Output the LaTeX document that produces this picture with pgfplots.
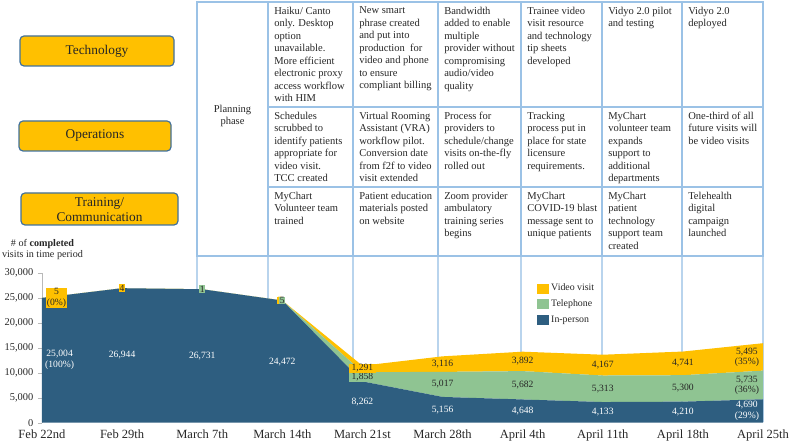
\documentclass[border=0pt]{standalone}
\usepackage{pgfplots}
\pgfplotsset{compat=1.18}
\usepackage{fontspec}
\setmainfont{Liberation Serif}
\definecolor{blueA}{RGB}{46,94,128}
\definecolor{greenA}{RGB}{143,196,146}
\definecolor{yellowA}{RGB}{255,192,0}
\definecolor{tblc}{RGB}{155,194,230}
\definecolor{boxb}{RGB}{65,113,156}
\definecolor{txt}{RGB}{38,38,38}
\tikzset{
  tbl/.style={draw=tblc, line width=0.9pt},
  cell/.style={anchor=north west, inner sep=0pt, align=left, text=txt, font=\fontsize{7.9}{9.375}\selectfont},
  lab/.style={font=\fontsize{7.2}{7.6}\selectfont, inner sep=0.5pt, align=center, text=txt},
  tight/.style={text height=4.9pt, text depth=1.3pt, inner ysep=0.2pt, inner xsep=2pt},
  wlab/.style={font=\fontsize{7.2}{8.2}\selectfont, inner sep=0.5pt, align=center, text=white},
  cat/.style={draw=boxb, fill=yellowA, line width=0.9pt, rounded corners=3pt},
}
\begin{document}
\begin{tikzpicture}
\path[use as bounding box] (0pt,0pt) rectangle (591.75pt,-330.75pt);
\begin{scope}[x=0.75pt,y=-0.75pt]
\foreach \xx in {197,268,353,438,521,602,682,763} \draw[tbl, draw=tblc!70] (\xx,256) -- (\xx,422);
\end{scope}
\begin{axis}[
  at={(31.5pt,-317.0pt)}, anchor=south west,
  scale only axis, width=540.75pt, height=112.3pt,
  xmin=0, xmax=9, ymin=0, ymax=30000,
  axis lines*=left,
  axis line style={draw=gray!55},
  x axis line style={draw=none},
  tick align=outside,
  major tick length=3pt,
  ytick={0,5000,...,30000},
  y tick style={draw=gray!55},
  x tick style={draw=none},
  xtick={0,...,9},
  xticklabels={Feb 22nd,Feb 29th,March 7th,March 14th,March 21st,March 28th,April 4th,April 11th,April 18th,April 25th},
  xticklabel style={font=\fontsize{9.4}{11}\selectfont, text=txt, yshift=1pt},
  yticklabel style={font=\fontsize{7.8}{9}\selectfont, text=txt, /pgf/number format/1000 sep={,}},
  /pgf/number format/assume math mode=true,
  scaled y ticks=false,
  clip=false,
  stack plots=y,
  reverse legend,
  legend cell align=left,
  legend image code/.code={\fill[#1] (0pt,-3.75pt) rectangle (8.5pt,3.75pt);},
  legend style={draw=none, fill=none, at={(0.6865,0.945)}, anchor=north west,
    font=\fontsize{7.4}{8}\selectfont, text=txt, inner sep=0pt, row sep=1.2pt,
    /tikz/column 2/.style={column sep=1.8pt}},
]
\addplot[fill=blueA, draw=none] coordinates {
(0,25004) (1,26944) (2,26731) (3,24472) (4,8262) (5,5156) (6,4648) (7,4133) (8,4210) (9,4690)} \closedcycle;
\addlegendentry{In-person}
\addplot[fill=greenA, draw=none] coordinates {
(0,0) (1,0) (2,1) (3,5) (4,1858) (5,5017) (6,5682) (7,5313) (8,5300) (9,5735)} \closedcycle;
\addlegendentry{Telephone}
\addplot[fill=yellowA, draw=none] coordinates {
(0,5) (1,4) (2,0) (3,3) (4,1291) (5,3116) (6,3892) (7,4167) (8,4741) (9,5495)} \closedcycle;
\addlegendentry{Video visit}
% label anchor points (middle of each band)
\coordinate (p0) at (axis cs:0.22,12502);
\coordinate (p1) at (axis cs:1,13472);
\coordinate (p2) at (axis cs:2,13365);
\coordinate (p3) at (axis cs:3,12236);
\coordinate (p4) at (axis cs:4,4131);
\coordinate (p5) at (axis cs:5,2578);
\coordinate (p6) at (axis cs:6,2324);
\coordinate (p7) at (axis cs:7,2066);
\coordinate (p8) at (axis cs:8,2105);
\coordinate (p9) at (axis cs:8.8,2345);
\coordinate (t2) at (axis cs:2,26731);
\coordinate (t3) at (axis cs:3,24476);
\coordinate (t4) at (axis cs:4,9120);
\coordinate (t5) at (axis cs:5,7664);
\coordinate (t6) at (axis cs:6,7489);
\coordinate (t7) at (axis cs:7,6790);
\coordinate (t8) at (axis cs:8,6860);
\coordinate (t9) at (axis cs:8.8,7557);
\coordinate (v0) at (axis cs:0.18,25006);
\coordinate (v1) at (axis cs:1,26946);
\coordinate (v4) at (axis cs:4,10900);
\coordinate (v5) at (axis cs:5,11731);
\coordinate (v6) at (axis cs:6,12276);
\coordinate (v7) at (axis cs:7,11530);
\coordinate (v8) at (axis cs:8,11881);
\coordinate (v9) at (axis cs:8.8,13172);
\end{axis}
% data labels
\node[wlab] at (p0) {25,004\\(100\%)};
\node[wlab] at (p1) {26,944};
\node[wlab] at (p2) {26,731};
\node[wlab] at (p3) {24,472};
\node[wlab] at (p4) {8,262};
\node[wlab] at (p5) {5,156};
\node[wlab] at (p6) {4,648};
\node[wlab] at (p7) {4,133};
\node[wlab] at (p8) {4,210};
\node[wlab] at (p9) {4,690\\(29\%)};
\node[lab, fill=greenA] at (t2) {1};
\node[lab, fill=yellowA, text=yellowA, xshift=-2pt] at (t3) {5};
\node[lab, fill=greenA] at (t3) {5};
\node[lab, tight, fill=greenA] at (t4) {1,858};
\node[lab, fill=greenA] at (t5) {5,017};
\node[lab, fill=greenA] at (t6) {5,682};
\node[lab, fill=greenA] at (t7) {5,313};
\node[lab, fill=greenA] at (t8) {5,300};
\node[lab, fill=greenA] at (t9) {5,735\\(36\%)};
\node[lab, fill=yellowA] at (v0) {5\\(0\%)};
\node[lab, fill=yellowA] at (v1) {4};
\node[lab, tight, fill=yellowA] at (v4) {1,291};
\node[lab, fill=yellowA] at (v5) {3,116};
\node[lab, fill=yellowA] at (v6) {3,892};
\node[lab, fill=yellowA] at (v7) {4,167};
\node[lab, fill=yellowA] at (v8) {4,741};
\node[lab, fill=yellowA] at (v9) {5,495\\(35\%)};
\begin{scope}[x=0.75pt,y=-0.75pt]
% table
\draw[tbl] (197,2) rectangle (763,256);
\foreach \xx in {268,353,438,521,602,682} \draw[tbl] (\xx,2) -- (\xx,256);
\draw[tbl] (268,107) -- (763,107);
\draw[tbl] (268,187) -- (763,187);
\node[align=center, text=txt, font=\fontsize{7.9}{9.375}\selectfont] at (232.5,116) {Planning\\phase};
% row 1
\node[cell] at (274,6.5) {Haiku/ Canto\\only. Desktop\\option\\unavailable.\\More efficient\\electronic proxy\\access workflow\\with HIM};
\node[cell] at (359,6.5) {New smart\\phrase created\\and put into\\production\ \ for\\video and phone\\to ensure\\compliant billing};
\node[cell] at (444,6.5) {Bandwidth\\added to enable\\multiple\\provider without\\compromising\\audio/video\\quality};
\node[cell] at (527,6.5) {Trainee video\\visit resource\\and technology\\tip sheets\\developed};
\node[cell] at (608,6.5) {Vidyo 2.0 pilot\\and testing};
\node[cell] at (688,6.5) {Vidyo 2.0\\deployed};
% row 2
\node[cell] at (274,111.5) {Schedules\\scrubbed to\\identify patients\\appropriate for\\video visit.\\TCC created};
\node[cell] at (359,111.5) {Virtual Rooming\\Assistant (VRA)\\workflow pilot.\\Conversion date\\from f2f to video\\visit extended};
\node[cell] at (444,111.5) {Process for\\providers to\\schedule/change\\visits on-the-fly\\rolled out};
\node[cell] at (527,111.5) {Tracking\\process put in\\place for state\\licensure\\requirements.};
\node[cell] at (608,111.5) {MyChart\\volunteer team\\expands\\support to\\additional\\departments};
\node[cell] at (688,111.5) {One-third of all\\future visits will\\be video visits};
% row 3
\node[cell] at (274,191.5) {MyChart\\Volunteer team\\trained};
\node[cell] at (359,191.5) {Patient education\\materials posted\\on website};
\node[cell] at (444,191.5) {Zoom provider\\ambulatory\\training series\\begins};
\node[cell] at (527,191.5) {MyChart\\COVID-19 blast\\message sent to\\unique patients};
\node[cell] at (608,191.5) {MyChart\\patient\\technology\\support team\\created};
\node[cell] at (688,191.5) {Telehealth\\digital\\campaign\\launched};
% category boxes
\draw[cat] (20,36) rectangle (174,66);
\node[text=txt, font=\fontsize{10}{11.5}\selectfont] at (97,51) {Technology};
\draw[cat] (19,121) rectangle (171,151);
\node[text=txt, font=\fontsize{10}{11.5}\selectfont] at (95,136) {Operations};
\draw[cat] (21,193) rectangle (178,225);
\node[text=txt, align=center, font=\fontsize{10}{11.5}\selectfont] at (99.5,209.5) {Training/\\Communication};
% y title
\node[text=txt, align=center, font=\fontsize{7.6}{8.3}\selectfont] at (42.5,249.5) {\# of \textbf{completed}\\visits in time period};
\end{scope}
\end{tikzpicture}
\end{document}
